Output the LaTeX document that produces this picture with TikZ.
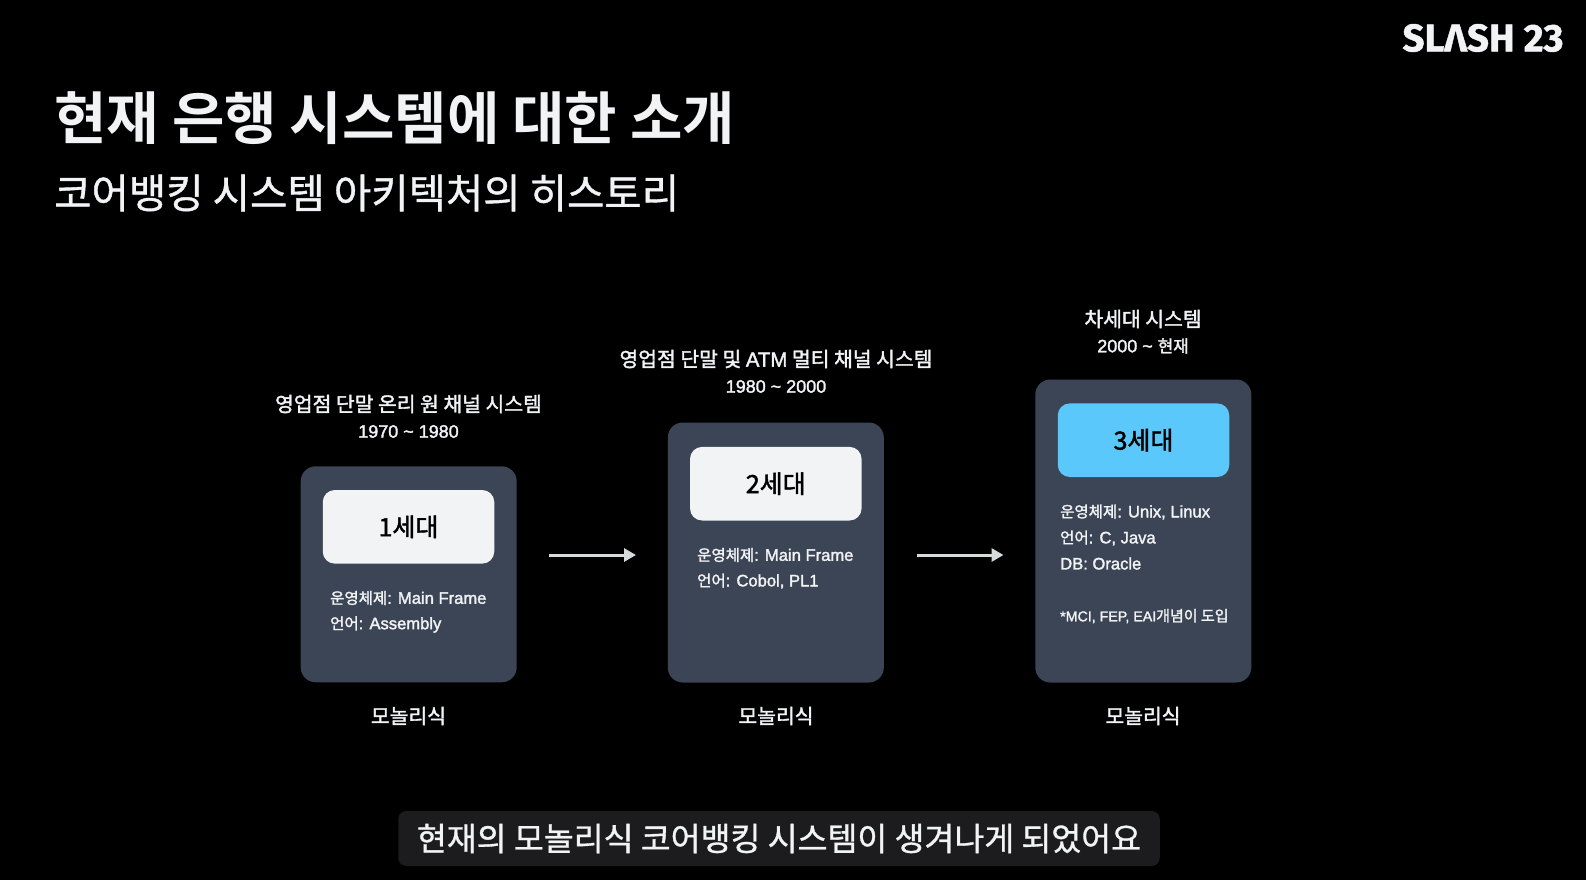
\documentclass[tikz,border=0pt]{standalone}
\usepackage{fontspec}
\usetikzlibrary{arrows.meta}
\setmainfont{Noto Sans CJK KR}
\newfontfamily\krm{Noto Sans CJK KR}[FakeBold=1.0]
\newfontfamily\krs{Noto Sans CJK KR}[FakeBold=1.8]
\newfontfamily\krb{Noto Sans CJK KR Bold}
\newfontfamily\latm{Liberation Sans}[FakeBold=1.8]
\newfontfamily\latd{Liberation Sans}[FakeBold=1.8,Scale=1.07]
\newfontfamily\logo{Fira Sans Bold}[FakeBold=1.2]
\definecolor{cardc}{HTML}{3B4555}
\definecolor{boxw}{HTML}{F2F3F5}
\definecolor{boxb}{HTML}{5AC8FA}
\definecolor{fg}{HTML}{F2F3F5}
\definecolor{capbg}{HTML}{1C1C1E}
\definecolor{arrowc}{HTML}{D5DADD}
\tikzset{
  card/.style={fill=cardc,rounded corners=15pt,inner sep=0pt},
  genbox/.style={rounded corners=12pt,font=\krs\fontsize{25}{30}\selectfont,text=black,inner sep=0pt,minimum width=171.5pt,minimum height=73.6pt},
  head/.style={text=fg,font=\krs\fontsize{20.4}{24}\selectfont,inner sep=0pt},
  years/.style={text=fg,font=\krs\fontsize{16.8}{21}\selectfont,inner sep=0pt},
  detail/.style={text=fg,font=\krs\fontsize{15.5}{21}\selectfont,inner sep=0pt,anchor=west},
  mono/.style={text=fg,font=\krs\fontsize{20.4}{24}\selectfont,inner sep=0pt},
  flow/.style={draw=arrowc,line width=3pt,-{Triangle[length=12pt,width=13pt]}}
}
\begin{document}
\begin{tikzpicture}[x=1pt,y=-1pt]
\useasboundingbox[fill=black] (0,0) rectangle (1586,880);

\node[text=fg,anchor=west,inner sep=0pt,font=\krb\fontsize{57}{60}\selectfont] (title) at (54,118) {현재 은행 시스템에 대한 소개};
\node[text=fg,anchor=west,inner sep=0pt,font=\krm\fontsize{40.6}{46}\selectfont] (subtitle) at (54,193) {코어뱅킹 시스템 아키텍처의 히스토리};

\node[text=fg,anchor=center,inner sep=0pt,font=\logo\fontsize{38.5}{40}\selectfont] (logo) at (1483,38) {SLΛSH 23};

% cards
\node[card,minimum width=216pt,minimum height=216pt] (c1) at (408.7,574.3) {};
\node[card,minimum width=216pt,minimum height=260pt] (c2) at (775.8,552.5) {};
\node[card,minimum width=216pt,minimum height=303pt] (c3) at (1143.3,531) {};

% generation boxes
\node[genbox,fill=boxw] (g1) at (408.5,526.8) {1세대};
\node[genbox,fill=boxw] (g2) at (775.8,483.7) {2세대};
\node[genbox,fill=boxb] (g3) at (1143.5,440.2) {3세대};

% headings
\node[head] (h1) at (408.5,404) {영업점 단말 온리 원 채널 시스템};
\node[years] (y1) at (408.5,431.5) {\latd 1970 \string~ 1980};
\node[head] (h2) at (776,359) {영업점 단말 및 {\latm ATM} 멀티 채널 시스템};
\node[years] (y2) at (776,386.5) {\latd 1980 \string~ 2000};
\node[head] (h3) at (1143,319) {차세대 시스템};
\node[years] (y3) at (1143,346) {{\latd 2000 \string~ }현재};

% details
\node[detail] (d11) at (330,598) {운영체제{\latd : Main Frame}};
\node[detail] (d12) at (330,624.5) {언어{\latd : Assembly}};
\node[detail] (d21) at (697,555) {운영체제{\latd : Main Frame}};
\node[detail] (d22) at (697,581) {언어{\latd : Cobol, PL1}};
\node[detail] (d31) at (1060,512) {운영체제{\latd : Unix, Linux}};
\node[detail] (d32) at (1060,538) {언어{\latd : C, Java}};
\node[detail] (d33) at (1060,563.5) {\latd DB: Oracle};
\node[detail,font=\krs\fontsize{15}{18}\selectfont] (d34) at (1060,616) {{\latm\fontsize{14.2}{18}\selectfont *MCI, FEP, EAI}개념이 도입};

% bottom labels
\node[mono] (m1) at (408.5,716) {모놀리식};
\node[mono] (m2) at (776,716) {모놀리식};
\node[mono] (m3) at (1143,716) {모놀리식};

% arrows
\coordinate (a1s) at (549,555);
\coordinate (a1e) at (636,555);
\coordinate (a2s) at (916.5,555);
\coordinate (a2e) at (1003.5,555);
\draw[flow] (a1s) -- (a1e);
\draw[flow] (a2s) -- (a2e);

% caption
\node[fill=capbg,rounded corners=8pt,minimum width=761.5pt,minimum height=55pt,inner sep=0pt,text=fg,font=\krm\fontsize{32.5}{38}\selectfont] (cap) at (779,838.5) {현재의 모놀리식 코어뱅킹 시스템이 생겨나게 되었어요};
\end{tikzpicture}
\end{document}
